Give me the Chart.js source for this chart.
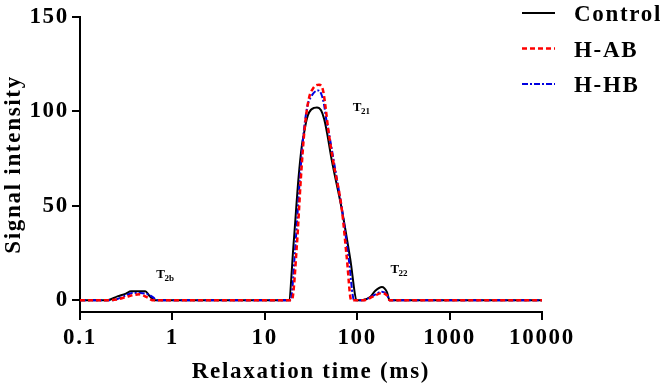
<!DOCTYPE html>
<html>
<head>
<meta charset="utf-8">
<script src="https://cdn.jsdelivr.net/npm/chart.js@4"></script>
<style>
  body { margin: 0; background: #fff; }
  canvas { display: block; }
</style>
</head>
<body>
<canvas id="t2Chart" width="666" height="386"></canvas>
<script>
// relaxation time (ms) and signal intensity
const controlX = [0.1, 0.198, 0.254, 0.314, 0.356, 0.509, 0.56, 0.637, 1, 10, 18.2, 20.5, 23.2, 25.2, 26.5, 27.9, 29.3, 31.6, 34.1, 36.7, 40.6, 43.8, 47.2, 53.1, 68.2, 84, 99.3, 112, 138, 157, 185, 210, 224, 1000, 10000];
const controlY = [0, 0, 2, 3.5, 4.7, 4.7, 2.5, 0, 0, 0, 0, 30, 65, 82, 88, 94, 98, 100.8, 101.8, 102, 100.5, 96, 88.5, 74, 48, 22, 0, 0, 1.7, 5, 7, 4.3, 0, 0, 0];

const habX = [0.1, 0.206, 0.26, 0.314, 0.437, 0.54, 0.61, 1, 10, 19.6, 22.3, 24.6, 27, 30.1, 33.2, 35.8, 38.6, 42.7, 45.5, 48.4, 54.8, 68.2, 77.3, 86.1, 117, 150, 185, 210, 224, 1000, 10000];
const habY = [0, 0, 0.5, 1.7, 3.1, 1.4, 0, 0, 0, 0, 30, 65, 91, 107, 112, 113.7, 114, 111, 102, 91, 74, 48, 22, 0, 0, 2, 3.8, 2.5, 0, 0, 0];

const hhbX = [0.1, 0.224, 0.28, 0.33, 0.37, 0.45, 0.55, 0.62, 0.68, 1, 10, 19, 21.5, 24, 26.5, 29.3, 31.6, 33.5, 36, 38, 40.6, 43.6, 46.5, 50.9, 57.5, 69.5, 80.9, 92.7, 115, 150, 185, 210, 224, 1000, 10000];
const hhbY = [0, 0, 1.5, 3, 3.8, 3.8, 3, 1.5, 0, 0, 0, 0, 30, 65, 90, 104, 107.5, 109.5, 110.8, 111, 109.5, 104, 95, 85, 70, 46, 22, 0, 0, 2.5, 4.5, 3, 0, 0, 0];

const seriesNames = ["Control", "H-AB", "H-HB"];
const xTicks = [0.1, 1, 10, 100, 1000, 10000];
const yTicks = [0, 50, 100, 150];

// peak labels (T + subscript) at data positions
const peakSub = ["2b", "21", "22"];
const peakX = [0.67, 89.7, 228.6];
const peakY = [11.5, 100, 14.6];

const FONT = "'Liberation Serif', 'Times New Roman', serif";

function toPoints(xs, ys) {
  return xs.map((x, i) => ({ x: x, y: ys[i] }));
}

const spacing = {
  id: "spacing",
  beforeUpdate(chart) { chart.ctx.letterSpacing = "1.7px"; },
  beforeDraw(chart) { chart.ctx.letterSpacing = "1.7px"; }
};

const peakLabels = {
  id: "peakLabels",
  afterDatasetsDraw(chart) {
    const ctx = chart.ctx;
    const xs = chart.scales.x, ys = chart.scales.y;
    ctx.save();
    ctx.letterSpacing = "0px";
    ctx.fillStyle = "#000";
    ctx.textBaseline = "alphabetic";
    ctx.textAlign = "left";
    peakSub.forEach((sub, i) => {
      const px = xs.getPixelForValue(peakX[i]);
      const py = ys.getPixelForValue(peakY[i]);
      ctx.font = "bold 13px " + FONT;
      ctx.fillText("T", px, py);
      const w = ctx.measureText("T").width;
      ctx.font = "bold 9px " + FONT;
      ctx.fillText(sub, px + w - 0.5, py + 3);
    });
    ctx.restore();
  }
};

const sideLegend = {
  id: "sideLegend",
  afterDraw(chart) {
    const ctx = chart.ctx;
    ctx.save();
    ctx.font = "bold 23px " + FONT;
    ctx.letterSpacing = "1.7px";
    ctx.textBaseline = "alphabetic";
    ctx.textAlign = "left";
    chart.data.datasets.forEach((ds, i) => {
      const base = 21 + i * 35.5;
      ctx.strokeStyle = ds.borderColor;
      ctx.lineWidth = ds.borderWidth;
      ctx.setLineDash(ds.borderDash || []);
      ctx.beginPath();
      ctx.moveTo(522, base - 8);
      ctx.lineTo(555, base - 8);
      ctx.stroke();
      ctx.fillStyle = "#000";
      ctx.fillText(ds.label, 574, base);
    });
    ctx.restore();
  }
};

const ctx = document.getElementById("t2Chart").getContext("2d");
new Chart(ctx, {
  type: "line",
  data: {
    datasets: [
      {
        label: seriesNames[0],
        data: toPoints(controlX, controlY),
        borderColor: "#000000",
        borderWidth: 2,
        order: 2
      },
      {
        label: seriesNames[1],
        data: toPoints(habX, habY),
        borderColor: "#ff0000",
        borderWidth: 2.5,
        borderDash: [5, 3],
        order: 0
      },
      {
        label: seriesNames[2],
        data: toPoints(hhbX, hhbY),
        borderColor: "#0000e0",
        borderWidth: 2,
        borderDash: [6, 2, 2, 2],
        order: 1
      }
    ]
  },
  options: {
    responsive: false,
    animation: false,
    layout: { padding: { top: 12, right: 124, left: 0, bottom: 0 } },
    elements: {
      point: { radius: 0 },
      line: { cubicInterpolationMode: "monotone", fill: false }
    },
    plugins: {
      legend: { display: false },
      tooltip: { enabled: false }
    },
    scales: {
      x: {
        type: "logarithmic",
        min: 0.1,
        max: 10000,
        afterBuildTicks: s => { s.ticks = xTicks.map(v => ({ value: v })); },
        afterFit: s => { s.height = 74; },
        border: { display: true, color: "#000", width: 2 },
        grid: { drawOnChartArea: false, drawTicks: true, tickLength: 8, color: "#000", lineWidth: 2 },
        ticks: {
          color: "#000",
          font: { family: FONT, size: 23, weight: "bold" },
          padding: 4,
          maxRotation: 0,
          autoSkip: false,
          callback: v => String(v)
        },
        title: {
          display: true,
          text: "Relaxation time (ms)",
          color: "#000",
          font: { family: FONT, size: 23, weight: "bold", lineHeight: 1.2 },
          padding: 0
        }
      },
      y: {
        min: -6.25,
        max: 150,
        afterBuildTicks: s => { s.ticks = yTicks.map(v => ({ value: v })); },
        afterFit: s => { s.width = 80; },
        border: { display: true, color: "#000", width: 2 },
        grid: { drawOnChartArea: false, drawTicks: true, tickLength: 8, color: "#000", lineWidth: 2 },
        ticks: {
          color: "#000",
          font: { family: FONT, size: 23, weight: "bold" },
          padding: 3
        },
        title: {
          display: true,
          text: "Signal intensity",
          color: "#000",
          font: { family: FONT, size: 23, weight: "bold", lineHeight: 1.2 },
          padding: 0
        }
      }
    }
  },
  plugins: [spacing, peakLabels, sideLegend]
});
</script>
</body>
</html>
